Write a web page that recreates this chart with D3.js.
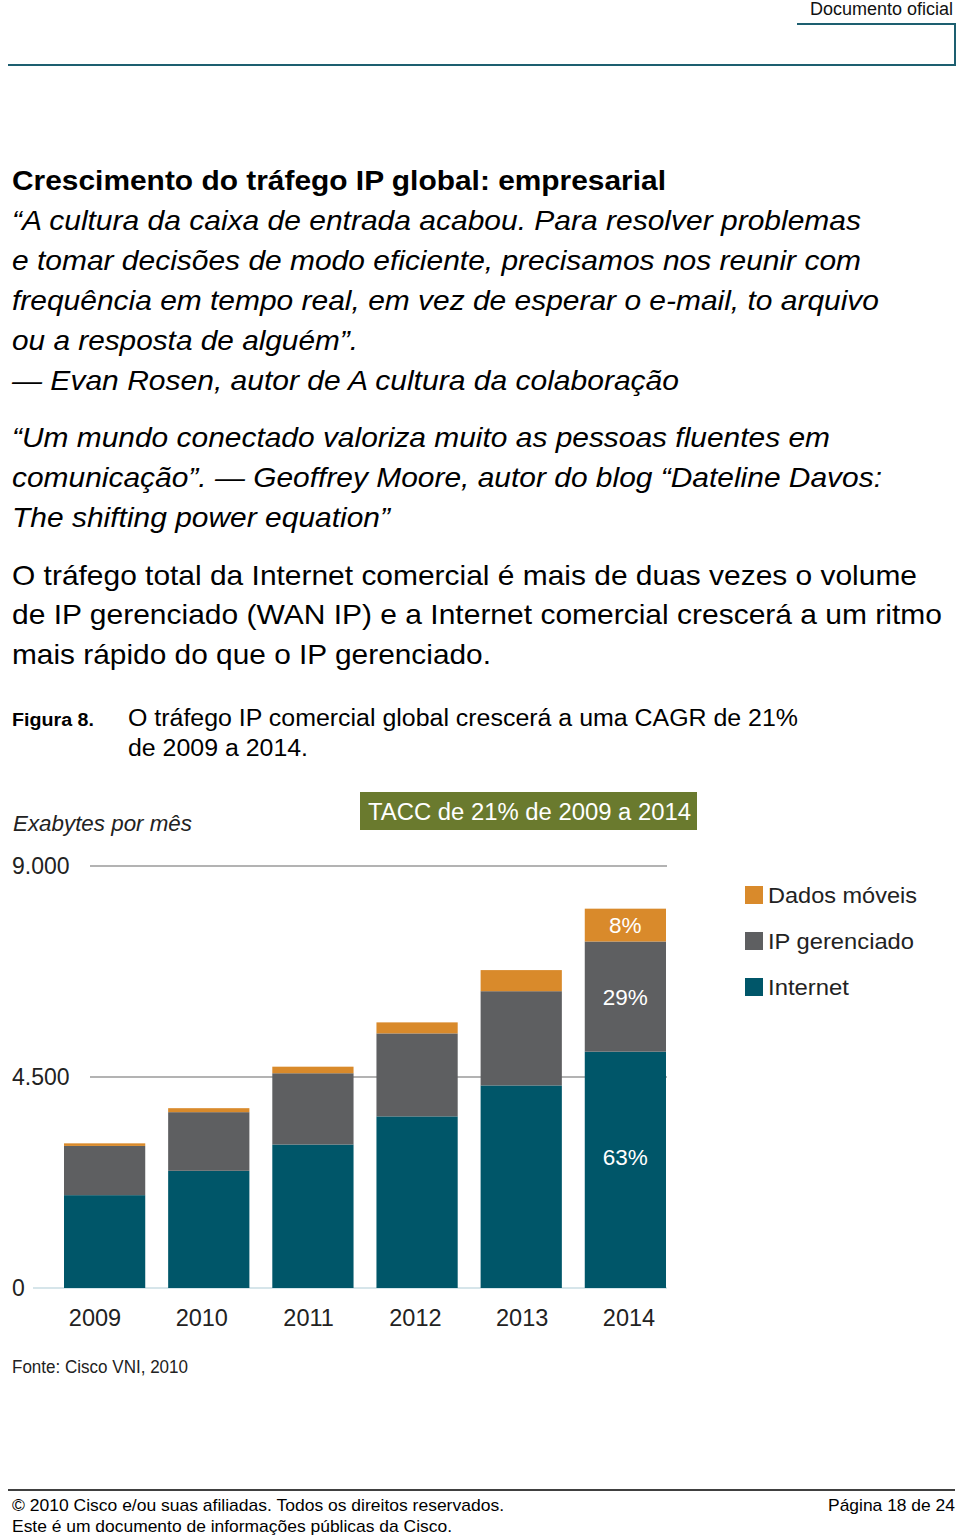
<!DOCTYPE html>
<html><head><meta charset="utf-8">
<script src="https://cdn.jsdelivr.net/npm/d3@7"></script>
<style>
html,body{margin:0;padding:0;background:#fff;}
svg{display:block;font-family:"Liberation Sans",Arial,sans-serif;}
</style></head>
<body>
<svg id="c" width="960" height="1539"></svg>
<script>
const years = ["2009","2010","2011","2012","2013","2014"];
const internet = [1980, 2500, 3060, 3660, 4320, 5040];
const gerenciado = [1050, 1250, 1520, 1770, 2010, 2350];
const moveis = [55, 85, 140, 235, 450, 700];
const seriesNames = ["Internet","IP gerenciado","Dados móveis"];
const seriesColors = ["#005669","#5e5f61","#d98a2b"];
const yTicks = [0, 4500, 9000];
const yTickLabels = ["0","4.500","9.000"];
const pctLabels = ["63%","29%","8%"];

const svg = d3.select("#c");

function fit(sel, w){ sel.attr("textLength", w).attr("lengthAdjust","spacingAndGlyphs"); return sel; }

// header
svg.append("text").attr("x",953).attr("y",15).attr("text-anchor","end")
  .attr("font-size",18).attr("fill","#111").text("Documento oficial");
svg.append("path").attr("d","M8,65 L955,65 L955,24 L797,24")
  .attr("fill","none").attr("stroke","#1d5f70").attr("stroke-width",2);

// body text
const lines = [
  {t:"Crescimento do tráfego IP global: empresarial", y:190, w:"bold", s:"normal", e:666},
  {t:"“A cultura da caixa de entrada acabou. Para resolver problemas", y:230, w:"normal", s:"italic", e:861},
  {t:"e tomar decisões de modo eficiente, precisamos nos reunir com", y:270, w:"normal", s:"italic", e:861},
  {t:"frequência em tempo real, em vez de esperar o e-mail, to arquivo", y:310, w:"normal", s:"italic", e:879},
  {t:"ou a resposta de alguém”.", y:350, w:"normal", s:"italic", e:358},
  {t:"— Evan Rosen, autor de A cultura da colaboração", y:390, w:"normal", s:"italic", e:679},
  {t:"“Um mundo conectado valoriza muito as pessoas fluentes em", y:447, w:"normal", s:"italic", e:830},
  {t:"comunicação”. — Geoffrey Moore, autor do blog “Dateline Davos:", y:487, w:"normal", s:"italic", e:882},
  {t:"The shifting power equation”", y:527, w:"normal", s:"italic", e:390},
  {t:"O tráfego total da Internet comercial é mais de duas vezes o volume", y:585, w:"normal", s:"normal", e:917},
  {t:"de IP gerenciado (WAN IP) e a Internet comercial crescerá a um ritmo", y:624, w:"normal", s:"normal", e:942},
  {t:"mais rápido do que o IP gerenciado.", y:664, w:"normal", s:"normal", e:491}
];
svg.selectAll("text.body").data(lines).join("text").attr("class","body")
  .attr("x",12).attr("y",d=>d.y).attr("font-size",28.5)
  .attr("font-weight",d=>d.w).attr("font-style",d=>d.s).attr("fill","#000")
  .attr("textLength",d=>d.e-12).attr("lengthAdjust","spacingAndGlyphs")
  .text(d=>d.t);

fit(svg.append("text").attr("x",12).attr("y",726).attr("font-size",17.5).attr("font-weight","bold").text("Figura 8."), 82);
fit(svg.append("text").attr("x",128).attr("y",726).attr("font-size",23.5).text("O tráfego IP comercial global crescerá a uma CAGR de 21%"), 670);
fit(svg.append("text").attr("x",128).attr("y",756).attr("font-size",23.5).text("de 2009 a 2014."), 180);

// chart
const x = d3.scaleBand().domain(years).range([64,666]).paddingInner(0.22).paddingOuter(0);
const xl = d3.scalePoint().domain(years).range([95,629]);
const y = d3.scaleLinear().domain([0,9000]).range([1288,866]);

fit(svg.append("text").attr("x",13).attr("y",831).attr("font-size",21.5).attr("font-style","italic")
  .attr("fill","#222").text("Exabytes por mês"), 179);

// green box
svg.append("rect").attr("x",360).attr("y",792).attr("width",337).attr("height",38).attr("fill","#6a7a2e");
fit(svg.append("text").attr("x",368).attr("y",820).attr("font-size",23)
  .attr("fill","#fff").text("TACC de 21% de 2009 a 2014"), 323);

// gridlines + labels
const g = svg.append("g");
yTicks.forEach((v,i)=>{
  g.append("line").attr("x1", v===0?33:90).attr("x2",667).attr("y1",y(v)).attr("y2",y(v))
    .attr("stroke", v===0?"#c9dde3":"#9a9a9a").attr("stroke-width",1.5);
  g.append("text").attr("x",12).attr("y",y(v)+8).attr("font-size",23).attr("fill","#222").text(yTickLabels[i]);
});

const stackData = years.map((yr,i)=>({year:yr, Internet:internet[i], "IP gerenciado":gerenciado[i], "Dados móveis":moveis[i]}));
const stack = d3.stack().keys(seriesNames)(stackData);

svg.append("g").selectAll("g").data(stack).join("g").attr("fill",(d,i)=>seriesColors[i])
  .selectAll("rect").data(d=>d).join("rect")
  .attr("x",d=>x(d.data.year)).attr("width",x.bandwidth())
  .attr("y",d=>y(d[1])).attr("height",d=>y(d[0])-y(d[1]));

// percent labels on last bar
const last = years.length-1;
stack.forEach((s,i)=>{
  const d = s[last];
  let cy = (y(d[0])+y(d[1]))/2;
  if(i===0) cy = y(d[1]) + 105;
  svg.append("text").attr("x",x(years[last])+x.bandwidth()/2).attr("y",cy+8)
    .attr("text-anchor","middle").attr("font-size",22.5).attr("fill","#fff").text(pctLabels[i]);
});

// x labels
svg.append("g").selectAll("text").data(years).join("text")
  .attr("x",d=>xl(d)).attr("y",1326).attr("text-anchor","middle")
  .attr("font-size",23.5).attr("fill","#222").text(d=>d);

// legend
const legOrder = [2,1,0];
const legEnds = [917,914,849];
legOrder.forEach((k,i)=>{
  svg.append("rect").attr("x",745).attr("y",886+i*46).attr("width",18).attr("height",18).attr("fill",seriesColors[k]);
  fit(svg.append("text").attr("x",768).attr("y",903+i*46).attr("font-size",22.5).attr("fill","#222").text(seriesNames[k]), legEnds[i]-768);
});

fit(svg.append("text").attr("x",12).attr("y",1373).attr("font-size",17.5).attr("fill","#222").text("Fonte: Cisco VNI, 2010"), 176);

// footer
svg.append("line").attr("x1",8).attr("x2",955).attr("y1",1490).attr("y2",1490).attr("stroke","#000").attr("stroke-width",1.5);
fit(svg.append("text").attr("x",12).attr("y",1511).attr("font-size",17).text("© 2010 Cisco e/ou suas afiliadas. Todos os direitos reservados."), 492);
fit(svg.append("text").attr("x",828).attr("y",1511).attr("font-size",17).text("Página 18 de 24"), 127);
fit(svg.append("text").attr("x",12).attr("y",1532).attr("font-size",17).text("Este é um documento de informações públicas da Cisco."), 440);
</script>
</body></html>
